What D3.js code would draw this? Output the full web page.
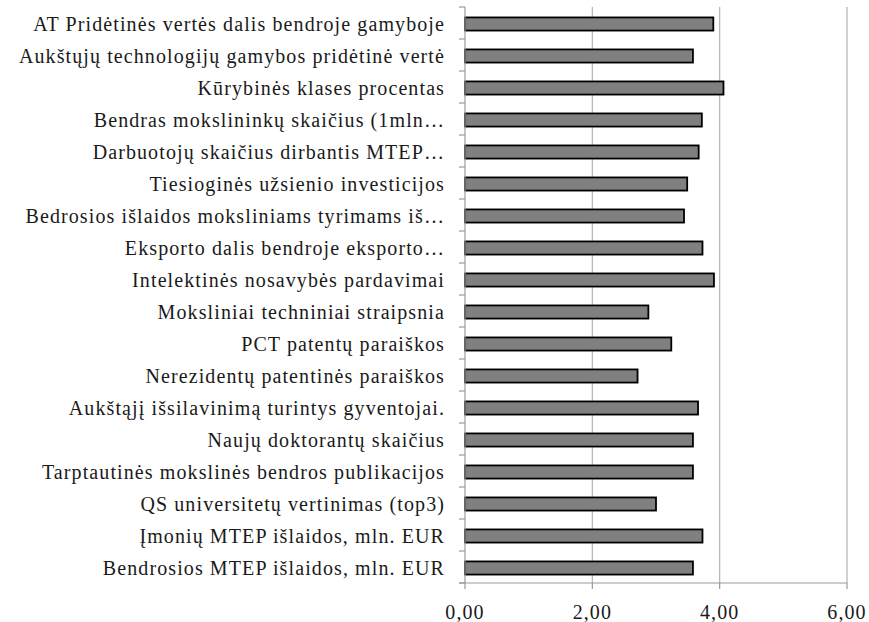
<!DOCTYPE html>
<html>
<head>
<meta charset="utf-8">
<script src="https://cdn.jsdelivr.net/npm/d3@7"></script>
<style>
  body { margin: 0; background: #fff; }
  svg text { font-family: "Liberation Serif", "Times New Roman", serif; fill: #1a1a1a; }
</style>
</head>
<body>
<div id="chart"></div>
<script>
const categories = [
  "AT Pridėtinės vertės dalis bendroje gamyboje",
  "Aukštųjų technologijų gamybos pridėtinė vertė",
  "Kūrybinės klases procentas",
  "Bendras mokslininkų skaičius (1mln…",
  "Darbuotojų skaičius dirbantis MTEP…",
  "Tiesioginės užsienio investicijos",
  "Bedrosios išlaidos moksliniams tyrimams iš…",
  "Eksporto dalis bendroje eksporto…",
  "Intelektinės nosavybės pardavimai",
  "Moksliniai techniniai straipsnia",
  "PCT patentų paraiškos",
  "Nerezidentų patentinės paraiškos",
  "Aukštąjį išsilavinimą turintys gyventojai.",
  "Naujų doktorantų skaičius",
  "Tarptautinės mokslinės bendros publikacijos",
  "QS universitetų vertinimas (top3)",
  "Įmonių MTEP išlaidos, mln. EUR",
  "Bendrosios MTEP išlaidos, mln. EUR"
];
const values = [3.90, 3.58, 4.06, 3.72, 3.67, 3.49, 3.44, 3.73, 3.91,
                2.88, 3.24, 2.71, 3.66, 3.58, 3.58, 3.00, 3.73, 3.58];
const xTicks = [0, 2, 4, 6];

const margin = { top: 7, right: 22, bottom: 39, left: 465 };
const width = 869, height = 622;
const innerW = width - margin.left - margin.right;
const innerH = height - margin.top - margin.bottom;

const svg = d3.select("#chart").append("svg")
  .attr("width", width)
  .attr("height", height);

const g = svg.append("g")
  .attr("transform", "translate(" + margin.left + "," + margin.top + ")");

const x = d3.scaleLinear().domain([0, 6]).range([0, innerW]);
const y = d3.scaleBand().domain(categories).range([0, innerH]).paddingInner(0.59).paddingOuter(0.295);
const yBand = d3.scaleBand().domain(categories).range([0, innerH]);

// vertical gridlines
g.selectAll(".grid")
  .data(xTicks.slice(1))
  .enter()
  .append("line")
  .attr("x1", d => x(d))
  .attr("x2", d => x(d))
  .attr("y1", 0)
  .attr("y2", innerH)
  .attr("stroke", "#b3b3b3")
  .attr("stroke-width", 1.2);

// bars
g.selectAll(".bar")
  .data(values)
  .enter()
  .append("rect")
  .attr("x", x(0))
  .attr("y", (d, i) => y(categories[i]) + 1)
  .attr("width", d => x(d) - x(0))
  .attr("height", y.bandwidth())
  .attr("fill", "#808080")
  .attr("stroke", "#000")
  .attr("stroke-width", 1.8);

// y axis line + ticks at band boundaries
const boundaries = categories.map(c => yBand(c)).concat([innerH]);
g.append("line")
  .attr("x1", 0).attr("x2", 0)
  .attr("y1", 0).attr("y2", innerH)
  .attr("stroke", "#9a9a9a").attr("stroke-width", 1.2);
g.selectAll(".ytick")
  .data(boundaries)
  .enter()
  .append("line")
  .attr("x1", -6).attr("x2", 0)
  .attr("y1", d => d).attr("y2", d => d)
  .attr("stroke", "#9a9a9a").attr("stroke-width", 1.2);

// y labels
g.selectAll(".ylabel")
  .data(categories)
  .enter()
  .append("text")
  .attr("x", -20)
  .attr("y", d => yBand(d) + yBand.bandwidth() / 2 + 1)
  .attr("dy", "0.35em")
  .attr("text-anchor", "end")
  .style("font-size", "20px")
  .style("letter-spacing", "1.1px")
  .text(d => d);

// x axis
g.append("line")
  .attr("x1", -6).attr("x2", innerW)
  .attr("y1", innerH).attr("y2", innerH)
  .attr("stroke", "#9a9a9a").attr("stroke-width", 1.2);
g.selectAll(".xtick")
  .data(xTicks)
  .enter()
  .append("line")
  .attr("x1", d => x(d)).attr("x2", d => x(d))
  .attr("y1", innerH).attr("y2", innerH + 6)
  .attr("stroke", "#9a9a9a").attr("stroke-width", 1.2);
g.selectAll(".xlabel")
  .data(xTicks)
  .enter()
  .append("text")
  .attr("x", d => x(d))
  .attr("y", innerH + 36)
  .attr("text-anchor", "middle")
  .style("font-size", "20px")
  .style("letter-spacing", "1.1px")
  .text(d => d.toFixed(2).replace(".", ","));
</script>
</body>
</html>
